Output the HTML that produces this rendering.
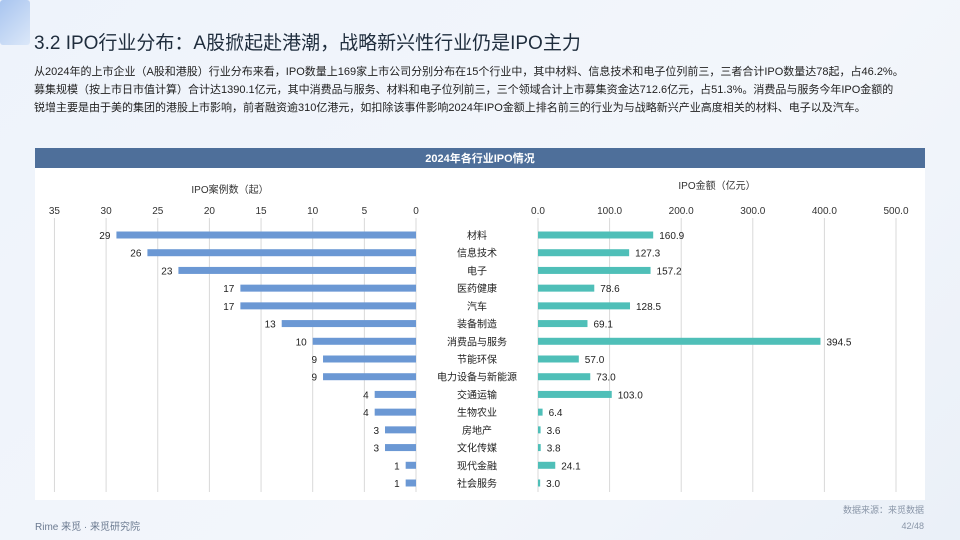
<!DOCTYPE html>
<html><head><meta charset="utf-8">
<style>
body{margin:0;width:960px;height:540px;overflow:hidden;background:linear-gradient(135deg,#eef3fb,#f3f6fb 60%,#eaf0f8);font-family:"Liberation Sans","Noto Sans CJK SC",sans-serif;position:relative}
.title{position:absolute;left:34px;top:28px;font-size:19px;color:#1f2d3d}
.para{position:absolute;left:34px;top:63px;font-size:11px;line-height:18px;color:#222}
.para span{display:block;white-space:nowrap;letter-spacing:0}
.deco{position:absolute;left:0;top:0;width:30px;height:45px;background:linear-gradient(135deg,#7aa6e8,#cfe0f7);opacity:.6;border-radius:3px}
.foot1{position:absolute;left:35px;top:518px;font-size:10px;color:#6b7a90}
.foot2{position:absolute;right:36px;top:502px;font-size:9px;color:#8a96a8;text-align:right;line-height:16px}
</style></head><body>
<div class="deco"></div>
<div class="title">3.2 IPO行业分布：A股掀起赴港潮，战略新兴性行业仍是IPO主力</div>
<div class="para"><span>从2024年的上市企业（A股和港股）行业分布来看，IPO数量上169家上市公司分别分布在15个行业中，其中材料、信息技术和电子位列前三，三者合计IPO数量达78起，占46.2%。</span><span>募集规模（按上市日市值计算）合计达1390.1亿元，其中消费品与服务、材料和电子位列前三，三个领域合计上市募集资金达712.6亿元，占51.3%。消费品与服务今年IPO金额的</span><span>锐增主要是由于美的集团的港股上市影响，前者融资逾310亿港元，如扣除该事件影响2024年IPO金额上排名前三的行业为与战略新兴产业高度相关的材料、电子以及汽车。</span></div>
<svg id="chart" width="960" height="540" style="position:absolute;left:0;top:0">
<rect x="35" y="148" width="890" height="352" fill="#fff"/>
<rect x="35" y="148" width="890" height="20" fill="#4e6f9a"/>
<text x="480" y="162" text-anchor="middle" font-size="11" font-weight="bold" fill="#fff">2024年各行业IPO情况</text>
<text x="230" y="193" text-anchor="middle" font-size="10" fill="#333">IPO案例数（起）</text>
<text x="717" y="189" text-anchor="middle" font-size="10" fill="#333">IPO金额（亿元）</text>
<g id="g"></g>
</svg>
<div class="foot2">数据来源：来觅数据<br>42/48</div>
<div class="foot1">Rime 来觅 · 来觅研究院</div>
<script>
const categories=["材料","信息技术","电子","医药健康","汽车","装备制造","消费品与服务","节能环保","电力设备与新能源","交通运输","生物农业","房地产","文化传媒","现代金融","社会服务"];
const counts=[29,26,23,17,17,13,10,9,9,4,4,3,3,1,1];
const amounts=[160.9,127.3,157.2,78.6,128.5,69.1,394.5,57.0,73.0,103.0,6.4,3.6,3.8,24.1,3.0];
const leftTicks=[35,30,25,20,15,10,5,0];
const rightTicks=[0,100,200,300,400,500];
const NS="http://www.w3.org/2000/svg",g=document.getElementById('g');
const xl=v=>416-v*10.33, xr=v=>538+v*0.716;
const rowY=i=>235+i*(248/(categories.length-1));
function mk(t,a){const e=document.createElementNS(NS,t);for(const k in a)e.setAttribute(k,a[k]);g.appendChild(e);return e;}
leftTicks.forEach(t=>{
 const l=mk('line',{x1:xl(t),x2:xl(t),y1:218,y2:492,stroke:'#d9d9d9'});
 
 
 const tx=mk('text',{x:xl(t),y:214,'text-anchor':'middle','font-size':10,fill:'#333'});tx.textContent=t;
 
 
});
rightTicks.forEach(t=>{
 const l=mk('line',{x1:xr(t),x2:xr(t),y1:218,y2:492,stroke:'#d9d9d9'});
 
 
 const tx=mk('text',{x:xr(t),y:214,'text-anchor':'middle','font-size':10,fill:'#333'});tx.textContent=t.toFixed(1);
 
 
});
categories.forEach((c,i)=>{
 const y=rowY(i);
 const b=mk('rect',{x:xl(counts[i]),y:y-3.5,width:416-xl(counts[i]),height:7,fill:'#6b98d4'});
 
 
 const v=mk('text',{x:xl(counts[i])-6,y:y+4,'text-anchor':'end','font-size':10,fill:'#222'});v.textContent=counts[i];
 
 
 const r=mk('rect',{x:538,y:y-3.5,width:xr(amounts[i])-538,height:7,fill:'#4fbfb8'});
 
 
 const a=mk('text',{x:xr(amounts[i])+6,y:y+4,'font-size':10,fill:'#222'});a.textContent=amounts[i].toFixed(1);
 
 
 const bg=mk('rect',{x:420,y:y-8,width:114,height:16,fill:'#fff'});
 
 
 const t=mk('text',{x:477,y:y+4,'text-anchor':'middle','font-size':10,fill:'#222'});t.textContent=c;
 
 
});
</script>
</body></html>
